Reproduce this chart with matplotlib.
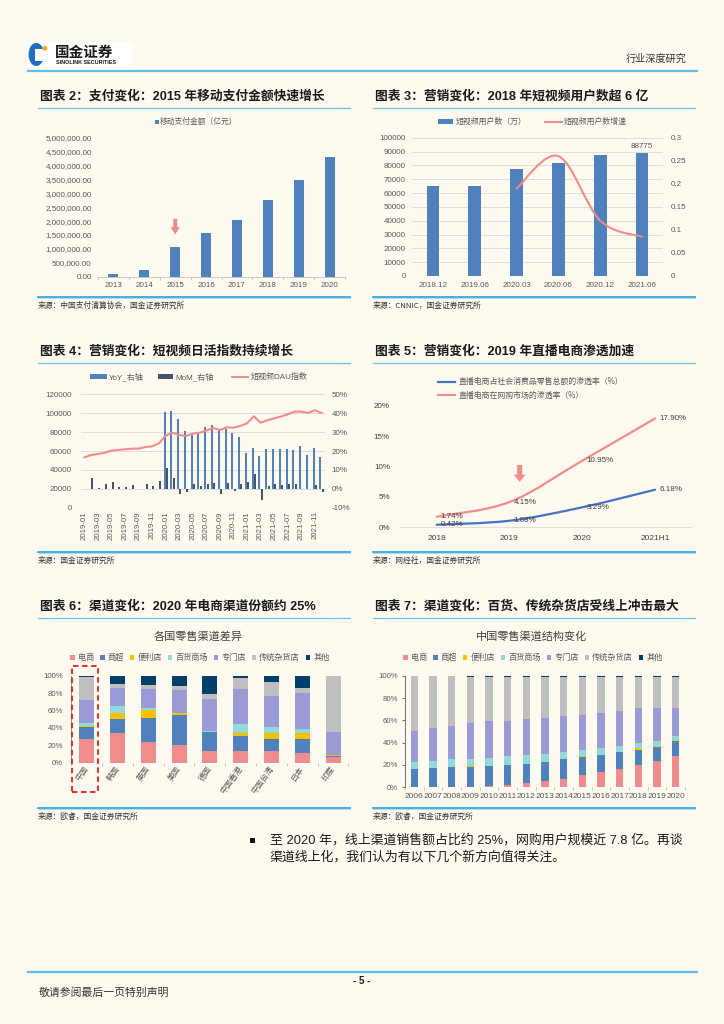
import numpy as np
import matplotlib
matplotlib.use('Agg')
import matplotlib.pyplot as plt
from matplotlib.patches import Rectangle, FancyArrow, Ellipse, PathPatch
from matplotlib.lines import Line2D
from matplotlib.path import Path

plt.rcParams['font.family'] = ['Liberation Sans', 'Noto Sans CJK SC', 'DejaVu Sans']
plt.rcParams['axes.unicode_minus'] = False

# ---------------- data ----------------
# Chart 2
years2 = ['2013', '2014', '2015', '2016', '2017', '2018', '2019', '2020']
mobile_pay2 = [96400, 225900, 1082200, 1575500, 2029300, 2773900, 3471100, 4321600]
yticks2 = [0, 500000, 1000000, 1500000, 2000000, 2500000, 3000000, 3500000, 4000000, 4500000, 5000000]

# Chart 3
periods3 = ['2018.12', '2019.06', '2020.03', '2020.06', '2020.12', '2021.06']
users3 = [64798, 64764, 77325, 81786, 87335, 88775]
growth3 = [np.nan, np.nan, 0.19, 0.26, 0.12, 0.085]

# Chart 4
ticklabels4 = ['2019-01', '2019-03', '2019-05', '2019-07', '2019-09', '2019-11',
               '2020-01', '2020-03', '2020-05', '2020-07', '2020-09', '2020-11',
               '2021-01', '2021-03', '2021-05', '2021-07', '2021-09', '2021-11']
dau4 = [53300, 55800, 56800, 58200, 60400, 61100, 61800, 62500, 62500, 64200, 65000, 68100,
        76200, 79400, 77000, 75900, 78400, 79400, 81500, 84400, 82200, 85100, 84700, 86500,
        89300, 96700, 90000, 92500, 94600, 96400, 98800, 101700, 101700, 100300, 103100, 100300]
yoy4 = [np.nan] * 12 + [40.7, 41.1, 36.9, 30.5, 28.4, 29.1, 32.5, 34.0, 31.0, 31.9, 29.6, 27.5,
                        18.9, 21.7, 17.3, 21.3, 21.3, 21.3, 21.3, 20.5, 22.6, 17.8, 21.7, 16.8]
mom4 = [np.nan, 5.5, 0.2, 2.8, 3.5, 0.9, 0.9, 1.9, -0.3, 2.3, 1.6, 4.1,
        10.8, 5.5, -2.5, -1.6, 2.5, 1.4, 2.8, 3.0, -2.6, 3.0, -0.9, 2.5,
        3.5, 7.8, -5.8, 1.6, 2.8, 2.1, 2.5, 2.5, -0.3, -0.3, 2.1, -1.6]

# Chart 5
years5 = ['2018', '2019', '2020', '2021H1']
retail_pen5 = [0.42, 1.08, 3.29, 6.18]
online_pen5 = [1.74, 4.15, 10.95, 17.90]

# Chart 6 / 7 channels
channels = ['电商', '商超', '便利店', '百货商场', '专门店', '传统杂货店', '其他']
channel_colors = ['#F08C8C', '#4F81BD', '#FFC000', '#92D9D9', '#9A9AD6', '#BFBFBF', '#003E6B']

countries6 = ['中国', '韩国', '英国', '美国', '德国', '中国香港', '中国台湾', '日本', '印度']
ecom6 = [26.8, 34.5, 24.1, 20.3, 13.8, 13.4, 13.4, 10.7, 6.9]
super6 = [13.8, 16.1, 27.6, 34.5, 21.4, 17.3, 13.4, 16.1, 1.1]
conv6 = [1.5, 6.9, 8.8, 1.9, 0.3, 3.8, 7.3, 7.7, 0.5]
dept6 = [3.9, 7.6, 2.3, 0.8, 0.5, 9.9, 7.3, 3.8, 0.3]
spec6 = [26.0, 21.1, 21.9, 26.0, 37.2, 40.3, 35.6, 42.2, 26.8]
trad6 = [26.1, 4.2, 4.6, 4.6, 5.7, 12.2, 15.3, 4.9, 64.0]
other6 = [1.9, 9.6, 10.7, 11.9, 21.1, 3.1, 7.7, 14.6, 0.4]

years7 = ['2006', '2007', '2008', '2009', '2010', '2011', '2012', '2013', '2014', '2015',
          '2016', '2017', '2018', '2019', '2020']
ecom7 = [0, 0, 0, 0, 0.8, 2.1, 3.6, 5.7, 7.8, 11.0, 13.7, 16.7, 20.0, 23.6, 28.0]
super7 = [16.1, 17.6, 18.5, 18.2, 18.3, 17.9, 17.3, 16.7, 17.3, 15.9, 15.3, 14.9, 13.4, 12.5, 13.5]
conv7 = [0, 0, 0, 0.5, 0, 0, 0, 0.6, 0.2, 0.7, 0.3, 0.3, 1.8, 0.9, 0.9]
dept7 = [6.6, 6.3, 6.9, 6.7, 7.5, 8.1, 8.1, 6.9, 6.3, 5.8, 5.6, 5.1, 4.5, 4.5, 3.9]
spec7 = [27.4, 29.2, 29.8, 31.9, 32.8, 31.6, 32.2, 32.5, 32.3, 31.4, 31.4, 31.4, 31.3, 29.8, 25.0]
trad7 = [49.3, 46.3, 44.2, 41.5, 39.4, 39.1, 37.6, 36.4, 34.9, 34.0, 32.5, 30.4, 27.8, 27.5, 27.5]
other7 = [0.6, 0.6, 0.6, 1.2, 1.2, 1.2, 1.2, 1.2, 1.2, 1.2, 1.2, 1.2, 1.2, 1.2, 1.2]

# ---------------- style ----------------
BG = '#FFFAF0'
BLUE = '#4F81BD'
PINK = '#F08C8C'
DARK = '#44546A'
LBLUE = '#4472C4'
GRAY = '#595959'
GRID = '#D9D9D9'
CJK = ['Noto Sans CJK SC', 'DejaVu Sans']

W, H = 724, 1024
fig = plt.figure(figsize=(W / 100, H / 100), dpi=100)
fig.patch.set_facecolor(BG)


def fx(x):
    return x / W


def fy(y):
    return 1 - y / H


def ax_px(l, t, r, b):
    ax = fig.add_axes([fx(l), fy(b), (r - l) / W, (b - t) / H])
    ax.set_facecolor('none')
    for s in ax.spines.values():
        s.set_visible(False)
    ax.tick_params(colors=GRAY, labelcolor=GRAY, labelsize=5.8, length=0)
    return ax


def ftext(x, y, s, **kw):
    kw.setdefault('va', 'center')
    return fig.text(fx(x), fy(y), s, **kw)


def fline(x0, x1, y0, y1, color, lw, **kw):
    fig.add_artist(Line2D([fx(x0), fx(x1)], [fy(y0), fy(y1)], color=color, lw=lw,
                          transform=fig.transFigure, **kw))


def frect(x0, y0, x1, y1, **kw):
    fig.add_artist(Rectangle((fx(x0), fy(y1)), (x1 - x0) / W, (y1 - y0) / H,
                             transform=fig.transFigure, **kw))


def smooth_path(xs, ys):
    pts = np.column_stack([xs, ys]).astype(float)
    n = len(pts)
    verts = [pts[0]]
    codes = [Path.MOVETO]
    for i in range(n - 1):
        p0 = pts[i - 1] if i > 0 else pts[i]
        p1 = pts[i]
        p2 = pts[i + 1]
        p3 = pts[i + 2] if i + 2 < n else pts[i + 1]
        c1 = p1 + (p2 - p0) / 6
        c2 = p2 - (p3 - p1) / 6
        verts += [c1, c2, p2]
        codes += [Path.CURVE4] * 3
    return Path(verts, codes)


def section(x0, x1, ytitle, title, ysrc, src):
    ftext(x0 + 2, ytitle, title, fontsize=9.2, fontweight='bold', color='#1a1a1a')
    fline(x0, x1, ytitle + 11, ytitle + 11, '#6CC3EC', 0.9)
    fline(x0, x1, ysrc, ysrc, '#3AA6E0', 1.3)
    fline(x0, x1, ysrc + 1.6, ysrc + 1.6, '#A9DDF5', 0.7)
    ftext(x0, ysrc + 9, src, fontsize=5.6, color='#333333', family=CJK)


# ---------------- header ----------------
frect(27, 42, 132, 67, facecolor='white', edgecolor='none')
fig.add_artist(Ellipse((fx(36.3), fy(54.5)), 15.5 / W, 23 / H, transform=fig.transFigure,
                       facecolor='#1E6FC1', edgecolor='none'))
frect(35, 49, 43.5, 61, facecolor='white', edgecolor='none')
fig.add_artist(Ellipse((fx(44.8), fy(48.3)), 5 / W, 5 / H, transform=fig.transFigure,
                       facecolor='#F5A623', edgecolor='none'))
ftext(55, 51.5, '国金证券', fontsize=10.5, fontweight='bold', color='#1a1a1a', family=CJK)
ftext(56, 62, 'SINOLINK SECURITIES', fontsize=3.9, fontweight='bold', color='#1a1a1a')
ftext(686, 59, '行业深度研究', fontsize=7.3, color='#333333', ha='right', family=CJK)
fline(28, 697, 70.5, 70.5, '#5BC0EB', 1.6)

# ---------------- sections ----------------
section(38, 350, 96.7, '图表 2：支付变化：2015 年移动支付金额快速增长', 296.7, '来源：中国支付清算协会，国金证券研究所')
section(373, 695, 96.7, '图表 3：营销变化：2018 年短视频用户数超 6 亿', 296.7, '来源：CNNIC，国金证券研究所')
section(38, 350, 351.7, '图表 4：营销变化：短视频日活指数持续增长', 551.7, '来源：国金证券研究所')
section(373, 695, 351.7, '图表 5：营销变化：2019 年直播电商渗透加速', 551.7, '来源：网经社，国金证券研究所')
section(38, 350, 606.7, '图表 6：渠道变化：2020 年电商渠道份额约 25%', 807.7, '来源：欧睿，国金证券研究所')
section(373, 695, 606.7, '图表 7：渠道变化：百货、传统杂货店受线上冲击最大', 807.7, '来源：欧睿，国金证券研究所')

# ---------------- Chart 2 ----------------
ax2 = ax_px(98, 137.7, 345, 276.7)
x2 = np.arange(len(years2))
ax2.bar(x2, mobile_pay2, width=0.32, color=BLUE)
ax2.set_xlim(-0.5, len(years2) - 0.5)
ax2.set_ylim(0, 5000000)
ax2.set_yticks(yticks2)
ax2.set_yticklabels([f'{v:,.2f}' for v in yticks2])
ax2.set_xticks(x2)
ax2.set_xticklabels(years2)
ax2.set_xticks(np.arange(-0.5, len(years2)), minor=True)
ax2.spines['bottom'].set_visible(True)
ax2.spines['bottom'].set_color('#BFBFBF')
ax2.spines['bottom'].set_linewidth(0.6)
ax2.tick_params(axis='x', which='minor', length=2.5, color='#BFBFBF', width=0.6)
ax2.tick_params(axis='y', pad=4.5)
ax2.tick_params(axis='x', which='major', pad=4)
i15 = years2.index('2015')
ax2.add_patch(FancyArrow(i15, mobile_pay2[i15] + 1000000, 0, -560000, width=0.13,
                         head_width=0.3, head_length=260000, length_includes_head=True,
                         color=PINK, lw=0))
frect(154.5, 119.5, 158.5, 123.5, facecolor=BLUE, edgecolor='none')
ftext(160, 121.7, '移动支付金额（亿元）', fontsize=5.6, color=GRAY, family=CJK)

# ---------------- Chart 3 ----------------
ax3 = ax_px(412, 137.7, 663, 276)
x3 = np.arange(len(periods3))
ax3.bar(x3, users3, width=0.3, color=BLUE, zorder=2)
ax3.set_xlim(-0.5, len(periods3) - 0.5)
ax3.set_ylim(0, 100000)
ax3.set_yticks(np.arange(0, 100001, 10000))
ax3.grid(axis='y', color=GRID, lw=0.6, zorder=0)
ax3.set_axisbelow(True)
ax3.set_xticks(x3)
ax3.set_xticklabels(periods3)
ax3.tick_params(axis='y', pad=4.5)
ax3.tick_params(axis='x', pad=4)
ax3.text(x3[-1], users3[-1] + 2500, f'{users3[-1]}', ha='center', va='bottom', fontsize=5.8, color=GRAY)
ax3r = ax3.twinx()
ax3r.set_facecolor('none')
for s in ax3r.spines.values():
    s.set_visible(False)
ax3r.set_ylim(0, 0.3)
ax3r.set_yticks([0, 0.05, 0.1, 0.15, 0.2, 0.25, 0.3])
ax3r.set_yticklabels(['0', '0.05', '0.1', '0.15', '0.2', '0.25', '0.3'])
ax3r.tick_params(colors=GRAY, labelcolor=GRAY, labelsize=5.8, length=0, pad=5.8)
g3 = np.array(growth3)
m3 = ~np.isnan(g3)
ax3r.add_patch(PathPatch(smooth_path(x3[m3], g3[m3]), fill=False, edgecolor=PINK, lw=1.5,
                         capstyle='round'))
frect(438.3, 119.3, 453.3, 124.3, facecolor=BLUE, edgecolor='none')
ftext(455.5, 121.8, '短视频用户数（万）', fontsize=5.7, color=GRAY, family=CJK)
fline(545, 562, 121.8, 121.8, PINK, 1.5)
ftext(564, 121.8, '短视频用户数增速', fontsize=5.7, color=GRAY, family=CJK)

# ---------------- Chart 4 ----------------
ax4 = ax_px(81, 394.3, 325, 507.7)
idx4 = np.arange(len(dau4))
ax4.bar(idx4 - 0.17, yoy4, width=0.3, color=BLUE, zorder=2)
ax4.bar(idx4 + 0.17, mom4, width=0.3, color=DARK, zorder=2)
ax4.set_xlim(-0.5, len(dau4) - 0.5)
ax4.set_ylim(-10, 50)
ax4.set_yticks(np.arange(-10, 51, 10))
ax4.set_yticklabels([f'{v}%' for v in range(-10, 51, 10)])
ax4.grid(axis='y', color=GRID, lw=0.6, zorder=0)
ax4.set_axisbelow(True)
ax4.set_xticks(idx4[::2])
ax4.set_xticklabels(ticklabels4, rotation=90, fontsize=5.6)
ax4.tick_params(axis='x', pad=2.5)
ax4r = ax4.twinx()
ax4r.set_facecolor('none')
for s in ax4r.spines.values():
    s.set_visible(False)
ax4r.plot(idx4, dau4, color=PINK, lw=1.5, zorder=3)
ax4r.set_ylim(0, 120000)
ax4r.set_yticks(np.arange(0, 120001, 20000))
# bars' percentage scale on the right, DAU index scale on the left
ax4.yaxis.tick_right()
ax4.tick_params(axis='y', pad=4.8, length=0, labelleft=False, labelright=True)
ax4r.yaxis.tick_left()
ax4r.tick_params(colors=GRAY, labelcolor=GRAY, labelsize=5.8, length=0, pad=6.7,
                 labelleft=True, labelright=False)
frect(90, 374.3, 106.7, 378.8, facecolor=BLUE, edgecolor='none')
ftext(109, 376.7, 'YoY_右轴', fontsize=5.8, color=GRAY)
frect(158.3, 374.3, 173.3, 378.8, facecolor=DARK, edgecolor='none')
ftext(175.7, 376.7, 'MoM_右轴', fontsize=5.8, color=GRAY)
fline(231.7, 248.3, 376.7, 376.7, PINK, 1.5)
ftext(250.7, 376.7, '短视频DAU指数', fontsize=5.8, color=GRAY)

# ---------------- Chart 5 ----------------
ax5 = ax_px(400.3, 405.7, 691.4, 527.3)
x5 = np.arange(len(years5))
ax5.add_patch(PathPatch(smooth_path(x5, online_pen5), fill=False, edgecolor=PINK, lw=1.6, capstyle='round'))
ax5.add_patch(PathPatch(smooth_path(x5, retail_pen5), fill=False, edgecolor=LBLUE, lw=1.6, capstyle='round'))
ax5.set_xlim(-0.5, len(years5) - 0.5)
ax5.set_ylim(0, 20)
ax5.set_yticks([0, 5, 10, 15, 20])
ax5.set_yticklabels([f'{v}%' for v in [0, 5, 10, 15, 20]])
ax5.set_xticks(x5)
ax5.set_xticklabels(years5, fontsize=6, color='#404040')
ax5.spines['bottom'].set_visible(True)
ax5.spines['bottom'].set_color(GRID)
ax5.spines['bottom'].set_linewidth(0.6)
ax5.tick_params(axis='y', pad=7.4, labelsize=5.8, labelcolor='#404040')
ax5.tick_params(axis='x', pad=5.5)
for xi, v in zip(x5, online_pen5):
    ax5.annotate(f'{v:.2f}%', (xi, v), xytext=(3, 0), textcoords='offset points',
                 ha='left', va='center', fontsize=5.8, color='#404040')
for xi, v in zip(x5, retail_pen5):
    ax5.annotate(f'{v:.2f}%', (xi, v), xytext=(3, 0), textcoords='offset points',
                 ha='left', va='center', fontsize=5.8, color='#404040')
ax5.add_patch(FancyArrow(1.14, online_pen5[1] + 6.1, 0, -2.8, width=0.07, head_width=0.16,
                         head_length=1.2, length_includes_head=True, color=PINK, lw=0))
fline(438.3, 455, 381.7, 381.7, LBLUE, 1.6)
ftext(458.3, 381.7, '直播电商占社会消费品零售总额的渗透率（%）', fontsize=5.7, color=GRAY, family=CJK)
fline(438.3, 455, 395, 395, PINK, 1.6)
ftext(458.3, 395, '直播电商在网购市场的渗透率（%）', fontsize=5.7, color=GRAY, family=CJK)


# ---------------- stacked charts ----------------
def stacked(ax, n, series, width):
    bottom = np.zeros(n)
    handles = []
    for vals, col, lab in zip(series, channel_colors, channels):
        v = np.array(vals, dtype=float)
        h = ax.bar(np.arange(n), v, width=width, bottom=bottom, color=col, label=lab, zorder=2)
        handles.append(h)
        bottom += v
    return handles


# Chart 6
ax6 = ax_px(71.3, 675.7, 348.5, 762.7)
h6 = stacked(ax6, len(countries6), [ecom6, super6, conv6, dept6, spec6, trad6, other6], 0.49)
ax6.set_xlim(-0.5, len(countries6) - 0.5)
ax6.set_ylim(0, 100)
ax6.set_yticks(np.arange(0, 101, 20))
ax6.set_yticklabels([f'{v}%' for v in range(0, 101, 20)])
ax6.tick_params(axis='y', pad=6, labelsize=5.6)
ax6.set_xticks(np.arange(len(countries6)))
ax6.set_xticklabels(countries6, rotation=55, ha='right', va='center', rotation_mode='anchor',
                    fontsize=5.8, family=CJK)
ax6.tick_params(axis='x', pad=3)
ax6.set_xticks(np.arange(-0.5, len(countries6)), minor=True)
ax6.tick_params(axis='x', which='minor', length=2, color='#BFBFBF', width=0.6)
ax6.spines['left'].set_visible(True)
ax6.spines['left'].set_color('#7F7F7F')
ax6.spines['left'].set_linewidth(0.6)
ftext(198, 637, '各国零售渠道差异', fontsize=8, color='#404040', ha='center', family=CJK)
fig.legend(handles=h6, labels=channels, loc='center', bbox_to_anchor=(fx(200), fy(657.7)),
           ncol=7, frameon=False, handlelength=0.55, handleheight=0.55,
           handletextpad=0.35, columnspacing=0.75, labelcolor=GRAY, prop={'family': CJK, 'size': 5.9})
frect(71.7, 666, 98.3, 792.3, facecolor='none', edgecolor='#E0201B', lw=1.3, linestyle=(0, (3, 2)))

# Chart 7
ax7 = ax_px(405, 675.7, 685, 787.3)
h7 = stacked(ax7, len(years7), [ecom7, super7, conv7, dept7, spec7, trad7, other7], 0.39)
ax7.set_xlim(-0.5, len(years7) - 0.5)
ax7.set_ylim(0, 100)
ax7.set_yticks(np.arange(0, 101, 20))
ax7.set_yticklabels([f'{v}%' for v in range(0, 101, 20)])
ax7.tick_params(axis='y', length=2, width=0.6, color='#595959', pad=3, labelsize=5.6, direction='out')
ax7.set_xticks(np.arange(len(years7)))
ax7.set_xticklabels(years7, fontsize=6)
ax7.tick_params(axis='x', pad=4)
ax7.set_xticks(np.arange(-0.5, len(years7)), minor=True)
ax7.tick_params(axis='x', which='minor', length=2, color='#BFBFBF', width=0.6)
ax7.spines['left'].set_visible(True)
ax7.spines['left'].set_color('#595959')
ax7.spines['left'].set_linewidth(0.6)
ftext(531.7, 637, '中国零售渠道结构变化', fontsize=8, color='#404040', ha='center', family=CJK)
fig.legend(handles=h7, labels=channels, loc='center', bbox_to_anchor=(fx(533), fy(657.7)),
           ncol=7, frameon=False, handlelength=0.55, handleheight=0.55,
           handletextpad=0.35, columnspacing=0.75, labelcolor=GRAY, prop={'family': CJK, 'size': 5.9})

# ---------------- body text ----------------
frect(249.5, 838.2, 254.5, 843.2, facecolor='#111111', edgecolor='none')
ftext(270, 840.5, '至 2020 年，线上渠道销售额占比约 25%，网购用户规模近 7.8 亿。再谈', fontsize=9.3, color='#1a1a1a')
ftext(270, 857.5, '渠道线上化，我们认为有以下几个新方向值得关注。', fontsize=9.3, color='#1a1a1a')

# ---------------- footer ----------------
fline(28, 697, 972, 972, '#5BC0EB', 1.6)
ftext(362, 980.5, '- 5 -', fontsize=7, fontweight='bold', color='#1a1a1a', ha='center')
ftext(39, 992.5, '敬请参阅最后一页特别声明', fontsize=7.8, color='#333333', family=CJK)

fig.savefig('out.png', dpi=100, facecolor=BG)
